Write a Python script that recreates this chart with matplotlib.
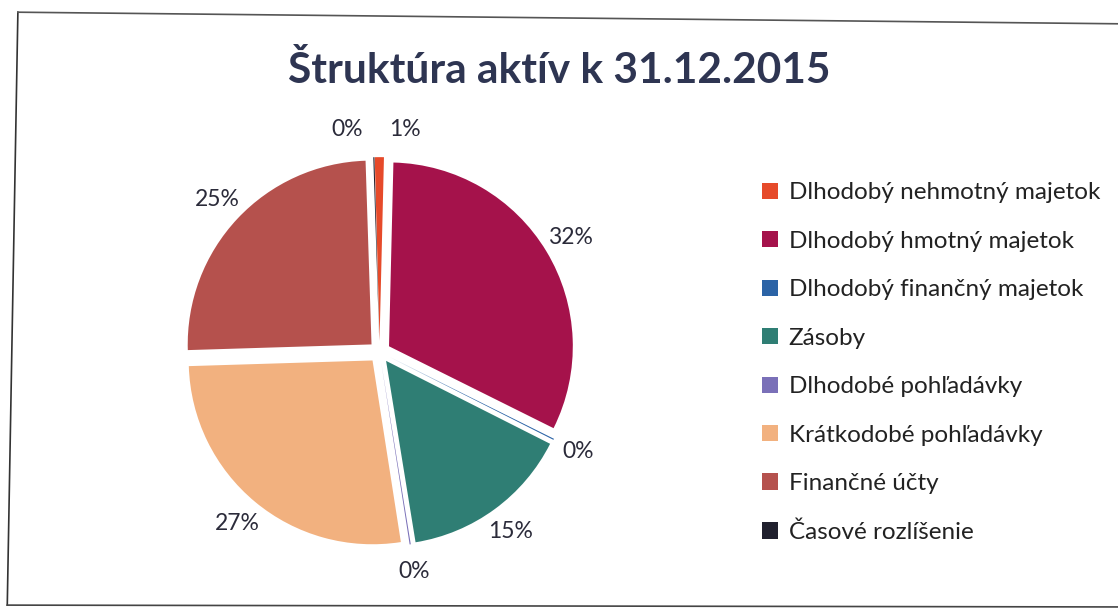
import matplotlib.pyplot as plt
from matplotlib.lines import Line2D

plt.rcParams['font.family'] = ['Lato', 'DejaVu Sans']

kategorie = ["Dlhodobý nehmotný majetok", "Dlhodobý hmotný majetok",
             "Dlhodobý finančný majetok", "Zásoby", "Dlhodobé pohľadávky",
             "Krátkodobé pohľadávky", "Finančné účty", "Časové rozlíšenie"]
podiel = [0.8, 32, 0.1, 15, 0.1, 27, 25, 0.1]
farby = ["#E64A2A", "#A5124B", "#2B63A6", "#2F7E74", "#7A70B8",
         "#F2B17F", "#B5514D", "#20202E"]

fig = plt.figure(figsize=(11.18, 6.1), dpi=100)
fig.patch.set_facecolor("white")

# ram okolo grafu (skenovany)
fig.add_artist(Line2D([0.016, 0.0065], [0.980, 0.008], color="#333333", lw=1.2))
fig.add_artist(Line2D([0.016, 1.0], [0.980, 0.961], color="#555555", lw=1.2))
fig.add_artist(Line2D([0.0065, 1.0], [0.008, 0.005], color="#444444", lw=1.2))

fig.text(0.50, 0.885, "Štruktúra aktív k 31.12.2015", ha="center", va="center",
         fontsize=30.5, fontweight="bold", color="#2E3552")

ax = fig.add_axes([0.134, 0.046, 0.411, 0.754])
wedges, texts, autotexts = ax.pie(
    podiel, colors=farby, startangle=91.5, counterclock=False,
    explode=[0.06] * len(podiel), autopct="%.0f%%", pctdistance=1.15,
    wedgeprops={"linewidth": 0},
    textprops={"fontsize": 16.5, "color": "#2B2B3A"})
ax.set_xlim(-1.25, 1.25)
ax.set_ylim(-1.25, 1.25)
ax.set_aspect("equal")
ax.axis("off")

# popisky hore od seba
autotexts[7].set_x(autotexts[7].get_position()[0] - 0.14)
autotexts[0].set_x(autotexts[0].get_position()[0] + 0.14)

leg = fig.legend(wedges, kategorie, loc="upper left", bbox_to_anchor=(0.662, 0.737),
                 frameon=False, fontsize=17.5, handlelength=0.65, handleheight=0.65,
                 handletextpad=0.45, labelspacing=1.13, labelcolor="#222222")

fig.savefig("out.png", dpi=100, facecolor="white")
